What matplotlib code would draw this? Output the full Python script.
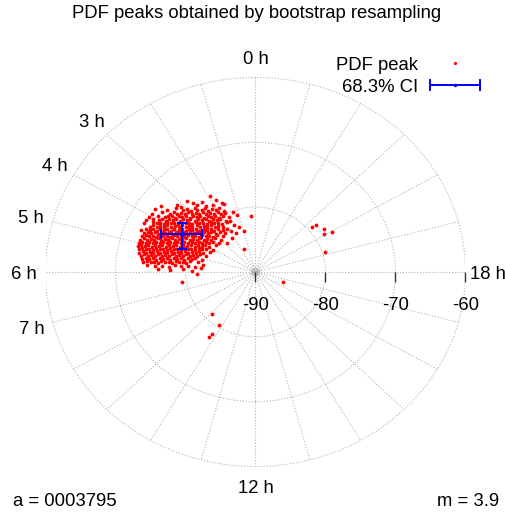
import numpy as np
import matplotlib
matplotlib.use('Agg')
import matplotlib.pyplot as plt
from matplotlib.patches import Circle
from matplotlib.lines import Line2D
from matplotlib.markers import TICKDOWN

plt.rcParams['font.family'] = ['Liberation Sans', 'DejaVu Sans']

# ---------------- data ----------------
title = 'PDF peaks obtained by bootstrap resampling'
dec_min = -90                      # declination at the pole (plot centre)
dec_ticks = [-90, -80, -70, -60]
grid_decs = [-80, -70, -60]
grid_hours = list(range(24))
hour_labels = [0, 3, 4, 5, 6, 7, 12, 18]
info_left = 'a = 0003795'
info_right = 'm = 3.9'
legend_labels = ['PDF peak', '68.3% CI']

# bootstrap PDF peaks, projected offsets from the pole in degrees (x to 18 h, y to 0 h)
peaks_main = [
    (-6.5, 11.7), (-4.8, 10.6), (-11.2, 10.4), (-10.7, 10.1), (-13.5, 10.2), (-8.9, 10.6),
    (-7.6, 10.8), (-6.0, 10.4), (-9.8, 10.9), (-5.6, 11.1), (-7.0, 10.2), (-8.3, 10.3),
    (-14.4, 9.7), (-12.7, 9.5), (-11.3, 9.8), (-10.3, 9.5), (-9.8, 9.7), (-9.2, 9.4), (-8.7, 9.8),
    (-8.3, 9.5), (-7.7, 9.6), (-7.2, 9.9), (-6.8, 9.4), (-6.2, 9.7), (-5.7, 9.5), (-5.2, 9.8), (-4.5, 9.4),
    (-14.8, 9.0), (-13.4, 9.2), (-12.2, 8.9), (-11.7, 9.2), (-11.2, 9.0), (-10.7, 9.1), (-10.1, 8.9),
    (-9.6, 9.2), (-9.1, 9.0), (-8.5, 9.1), (-8.0, 8.9), (-7.5, 9.2), (-7.0, 9.0), (-6.5, 9.1),
    (-5.9, 8.9), (-5.4, 9.2), (-4.9, 9.0), (-4.3, 9.1),
    (-15.2, 8.5), (-13.9, 8.7), (-13.0, 8.5), (-12.5, 8.7), (-12.0, 8.6), (-11.5, 8.4), (-11.0, 8.7),
    (-10.5, 8.5), (-10.0, 8.6), (-9.4, 8.4), (-8.9, 8.7), (-8.4, 8.5), (-7.9, 8.6), (-7.3, 8.4),
    (-6.8, 8.7), (-6.3, 8.5), (-5.8, 8.6), (-5.2, 8.4), (-4.6, 8.7), (-3.8, 8.5),
    (-15.6, 8.0), (-14.6, 8.2), (-13.8, 8.0), (-13.3, 8.2), (-12.8, 7.9), (-12.3, 8.1), (-11.8, 8.0),
    (-11.3, 8.2), (-10.8, 7.9), (-10.3, 8.1), (-9.8, 8.0), (-9.3, 8.2), (-8.7, 7.9), (-8.2, 8.1),
    (-7.7, 8.0), (-7.1, 8.2), (-6.6, 7.9), (-6.1, 8.1), (-5.5, 8.0), (-5.0, 8.2), (-4.2, 7.9),
    (-16.0, 7.5), (-14.6, 7.7), (-14.1, 7.5), (-13.6, 7.6), (-13.1, 7.4), (-12.6, 7.7), (-12.1, 7.5),
    (-11.6, 7.6), (-11.1, 7.4), (-10.6, 7.7), (-10.0, 7.5), (-9.5, 7.6), (-9.0, 7.4), (-8.5, 7.7),
    (-8.0, 7.5), (-7.5, 7.6), (-6.9, 7.4), (-6.4, 7.7), (-5.9, 7.5), (-5.3, 7.6), (-4.8, 7.4), (-4.0, 7.7),
    (-15.1, 7.0), (-14.6, 7.2), (-14.1, 7.0), (-13.6, 7.1), (-13.1, 6.9), (-12.6, 7.2), (-12.1, 7.0),
    (-11.5, 7.1), (-11.0, 6.9), (-10.5, 7.2), (-10.0, 7.0), (-9.5, 7.1), (-9.0, 6.9), (-8.4, 7.2),
    (-7.9, 7.0), (-7.4, 7.1), (-6.9, 6.9), (-6.4, 7.2), (-5.8, 7.0), (-5.3, 7.1), (-4.6, 6.9),
    (-16.3, 6.5), (-15.6, 6.7), (-15.1, 6.5), (-14.6, 6.6), (-14.1, 6.4), (-13.6, 6.7), (-13.1, 6.5),
    (-12.6, 6.6), (-12.1, 6.4), (-11.6, 6.7), (-11.0, 6.5), (-10.5, 6.6), (-10.0, 6.4), (-9.5, 6.7),
    (-9.0, 6.5), (-8.5, 6.6), (-8.0, 6.4), (-7.4, 6.7), (-6.9, 6.5), (-6.4, 6.6), (-5.9, 6.4),
    (-5.3, 6.7), (-4.7, 6.5),
    (-15.9, 6.0), (-15.4, 6.2), (-14.9, 6.0), (-14.4, 6.1), (-13.9, 5.9), (-13.4, 6.2), (-12.9, 6.0),
    (-12.4, 6.1), (-11.9, 5.9), (-11.4, 6.2), (-10.9, 6.0), (-10.4, 6.1), (-9.9, 5.9), (-9.4, 6.2),
    (-8.8, 6.0), (-8.3, 6.1), (-7.8, 5.9), (-7.3, 6.2), (-6.8, 6.0), (-6.3, 6.1), (-5.7, 5.9),
    (-5.1, 6.2), (-4.4, 6.0),
    (-16.2, 5.5), (-15.7, 5.7), (-15.2, 5.5), (-14.7, 5.6), (-14.2, 5.4), (-13.7, 5.7), (-13.2, 5.5),
    (-12.7, 5.6), (-12.2, 5.4), (-11.7, 5.7), (-11.2, 5.5), (-10.7, 5.6), (-10.2, 5.4), (-9.7, 5.7),
    (-9.1, 5.5), (-8.6, 5.6), (-8.1, 5.4), (-7.6, 5.7), (-7.1, 5.5), (-6.6, 5.6), (-6.1, 5.4),
    (-5.5, 5.7), (-4.7, 5.5),
    (-16.5, 5.0), (-16.0, 5.2), (-15.5, 5.0), (-15.0, 5.1), (-14.5, 4.9), (-14.0, 5.2), (-13.5, 5.0),
    (-13.0, 5.1), (-12.5, 4.9), (-12.0, 5.2), (-11.5, 5.0), (-11.0, 5.1), (-10.5, 4.9), (-10.0, 5.2),
    (-9.4, 5.0), (-8.9, 5.1), (-8.4, 4.9), (-7.9, 5.2), (-7.4, 5.0), (-6.9, 5.1), (-6.3, 4.9),
    (-5.8, 5.2), (-4.9, 5.0),
    (-16.7, 4.5), (-16.2, 4.7), (-15.7, 4.5), (-15.2, 4.6), (-14.7, 4.4), (-14.2, 4.7), (-13.7, 4.5),
    (-13.2, 4.6), (-12.7, 4.4), (-12.2, 4.7), (-11.7, 4.5), (-11.2, 4.6), (-10.7, 4.4), (-10.2, 4.7),
    (-9.7, 4.5), (-9.1, 4.6), (-8.6, 4.4), (-8.1, 4.7), (-7.6, 4.5), (-7.1, 4.6), (-6.6, 4.4),
    (-6.1, 4.7), (-5.2, 4.5),
    (-16.8, 4.0), (-16.3, 4.2), (-15.8, 4.0), (-15.3, 4.1), (-14.8, 3.9), (-14.3, 4.2), (-13.8, 4.0),
    (-13.3, 4.1), (-12.8, 3.9), (-12.3, 4.2), (-11.8, 4.0), (-11.3, 4.1), (-10.8, 3.9), (-10.3, 4.2),
    (-9.8, 4.0), (-9.2, 4.1), (-8.7, 3.9), (-8.2, 4.2), (-7.7, 4.0), (-7.2, 4.1), (-6.6, 3.9), (-5.6, 4.2),
    (-16.7, 3.5), (-16.2, 3.7), (-15.7, 3.5), (-15.2, 3.6), (-14.7, 3.4), (-14.2, 3.7), (-13.7, 3.5),
    (-13.2, 3.6), (-12.7, 3.4), (-12.2, 3.7), (-11.7, 3.5), (-11.2, 3.6), (-10.7, 3.4), (-10.2, 3.7),
    (-9.7, 3.5), (-9.2, 3.6), (-8.6, 3.4), (-8.1, 3.7), (-7.6, 3.5), (-7.0, 3.6), (-6.0, 3.4),
    (-16.6, 3.0), (-16.1, 3.2), (-15.6, 3.0), (-15.1, 3.1), (-14.6, 2.9), (-14.1, 3.2), (-13.6, 3.0),
    (-13.1, 3.1), (-12.6, 2.9), (-12.1, 3.2), (-11.6, 3.0), (-11.1, 3.1), (-10.6, 2.9), (-10.1, 3.2),
    (-9.6, 3.0), (-9.0, 3.1), (-8.5, 2.9), (-8.0, 3.2), (-7.5, 3.0), (-6.5, 3.1),
    (-16.4, 2.5), (-15.9, 2.7), (-15.4, 2.5), (-14.9, 2.6), (-14.4, 2.4), (-13.9, 2.7), (-13.4, 2.5),
    (-12.9, 2.6), (-12.4, 2.4), (-11.9, 2.7), (-11.4, 2.5), (-10.9, 2.6), (-10.4, 2.4), (-9.9, 2.7),
    (-9.4, 2.5), (-8.9, 2.6), (-8.4, 2.4), (-7.9, 2.7), (-7.0, 2.5),
    (-16.2, 2.0), (-15.7, 2.2), (-15.2, 2.0), (-14.7, 2.1), (-14.2, 1.9), (-13.7, 2.2), (-13.2, 2.0),
    (-12.7, 2.1), (-12.2, 1.9), (-11.7, 2.2), (-11.2, 2.0), (-10.7, 2.1), (-10.2, 1.9), (-9.6, 2.2),
    (-9.1, 2.0), (-8.6, 2.1), (-7.6, 1.9),
    (-16.1, 1.5), (-15.5, 1.7), (-15.0, 1.5), (-14.5, 1.6), (-14.0, 1.4), (-13.5, 1.7), (-13.0, 1.5),
    (-12.4, 1.6), (-11.9, 1.4), (-11.4, 1.7), (-10.9, 1.5), (-10.4, 1.6), (-9.9, 1.4), (-9.3, 1.7), (-8.2, 1.5),
    (-15.5, 1.1), (-14.4, 0.9), (-13.3, 1.0), (-12.4, 0.8), (-11.5, 1.1), (-10.6, 0.9), (-9.6, 1.0),
    (-8.6, 0.8), (-7.5, 1.1),
    (-14.0, 0.4), (-12.2, 0.3), (-10.3, 0.5), (-9.1, 0.2),
]
peaks_edge = [
    (-4.5, 10.5), (-3.2, 9.2), (-2.6, 8.8), (-0.6, 8.6), (-3.6, 7.8), (-3.0, 7.3), (-2.4, 7.0),
    (-4.1, 6.6), (-3.5, 6.4), (-2.8, 6.0), (-1.7, 6.4), (-3.4, 5.3), (-4.0, 4.5),
]
peaks_outliers = [
    (8.1, 7.0), (8.7, 7.2), (9.8, 6.6), (11.0, 6.2), (9.8, 5.8), (9.9, 3.1), (3.9, -1.6),
    (-1.7, 3.5), (-10.5, -1.5), (-8.4, -0.3), (-7.8, 0.6), (-6.2, -6.5), (-5.2, -8.2),
    (-6.6, -10.0), (-6.2, -9.6),
]

ci_center_x, ci_center_y = -10.54, 5.8
ci_xerr_lo, ci_xerr_hi = 3.0, 2.85
ci_yerr_lo, ci_yerr_hi = 2.25, 1.72

# ---------------- figure ----------------
W, H = 505, 515
fig = plt.figure(figsize=(W / 100, H / 100), dpi=100)
cx, cy, rx, ry = 255.5, 272.0, 210.0, 194.5
ax = fig.add_axes([(cx - rx) / W, (H - cy - ry) / H, 2 * rx / W, 2 * ry / H])
rmax = dec_ticks[-1] - dec_min
ax.set_xlim(-rmax, rmax)
ax.set_ylim(-rmax, rmax)
ax.axis('off')

grid_kw = dict(color='#b4b4b4', lw=0.8, ls=(0, (1, 1.6)))
for d in grid_decs:
    ax.add_patch(Circle((0, 0), d - dec_min, fill=False, **grid_kw))
for h in grid_hours:
    a = np.deg2rad(90 + 15 * h)
    ax.plot([0, rmax * np.cos(a)], [0, rmax * np.sin(a)], **grid_kw)
for rr in (0.3, 0.6):
    ax.add_patch(Circle((0, 0), rr, fill=False, color='#999999', lw=0.6))

# radial ticks and labels along the 18 h direction
tick_r = [d - dec_min for d in dec_ticks]
ax.plot(tick_r, [0] * len(tick_r), ls='none', marker=TICKDOWN, ms=7.5, mew=1.0,
        color='#333333', clip_on=False)
for d, r in zip(dec_ticks, tick_r):
    ax.annotate(f'{d}', xy=(r, 0), xytext=(0, -27.4), textcoords='offset points',
                ha='center', va='baseline', fontsize=13.3)

# hour labels
lab_r = rmax * 1.105
for h in hour_labels:
    a = np.deg2rad(90 + 15 * h)
    ax.annotate(f'{h} h', xy=(lab_r * np.cos(a), lab_r * np.sin(a)), xytext=(0, -4.7),
                textcoords='offset points', ha='center', va='baseline', fontsize=13.3,
                annotation_clip=False)

# data
allpk = peaks_main + peaks_edge + peaks_outliers
px = [p[0] for p in allpk]
py = [p[1] for p in allpk]
ax.plot(px, py, ls='none', marker='o', ms=2.75, mew=0, color='#ff0000', clip_on=False)

ax.errorbar([ci_center_x], [ci_center_y],
            xerr=[[ci_xerr_lo], [ci_xerr_hi]], yerr=[[ci_yerr_lo], [ci_yerr_hi]],
            fmt='o', ms=2.5, color='#0000ff', ecolor='#0000ff', elinewidth=1.4,
            capsize=3.5, capthick=1.4)

# texts
def fx(x):
    return x / W

def fy(y):
    return 1 - y / H

fig.text(fx(256.7), fy(17.5), title, ha='center', va='baseline', fontsize=13.3)
fig.text(fx(13.3), fy(506.5), info_left, ha='left', va='baseline', fontsize=13.3)
fig.text(fx(499), fy(506.5), info_right, ha='right', va='baseline', fontsize=13.3)

# legend
fig.text(fx(418.5), fy(70.3), legend_labels[0], ha='right', va='baseline', fontsize=13.3)
fig.text(fx(418.5), fy(91.5), legend_labels[1], ha='right', va='baseline', fontsize=13.3)
fig.add_artist(Line2D([fx(455)], [fy(62.7)], ls='none', marker='o', ms=2.3, mew=0,
                      color='#ff0000', transform=fig.transFigure))
fig.add_artist(Line2D([fx(429.5), fx(480)], [fy(85), fy(85)], color='#0000ff', lw=1.4,
                      transform=fig.transFigure))
for xx in (429.5, 480):
    fig.add_artist(Line2D([fx(xx), fx(xx)], [fy(80), fy(90)], color='#0000ff', lw=1.4,
                          transform=fig.transFigure))
fig.add_artist(Line2D([fx(455)], [fy(85)], ls='none', marker='o', ms=2.5, mew=0,
                      color='#0000ff', transform=fig.transFigure))

fig.savefig('out.png', dpi=100)
